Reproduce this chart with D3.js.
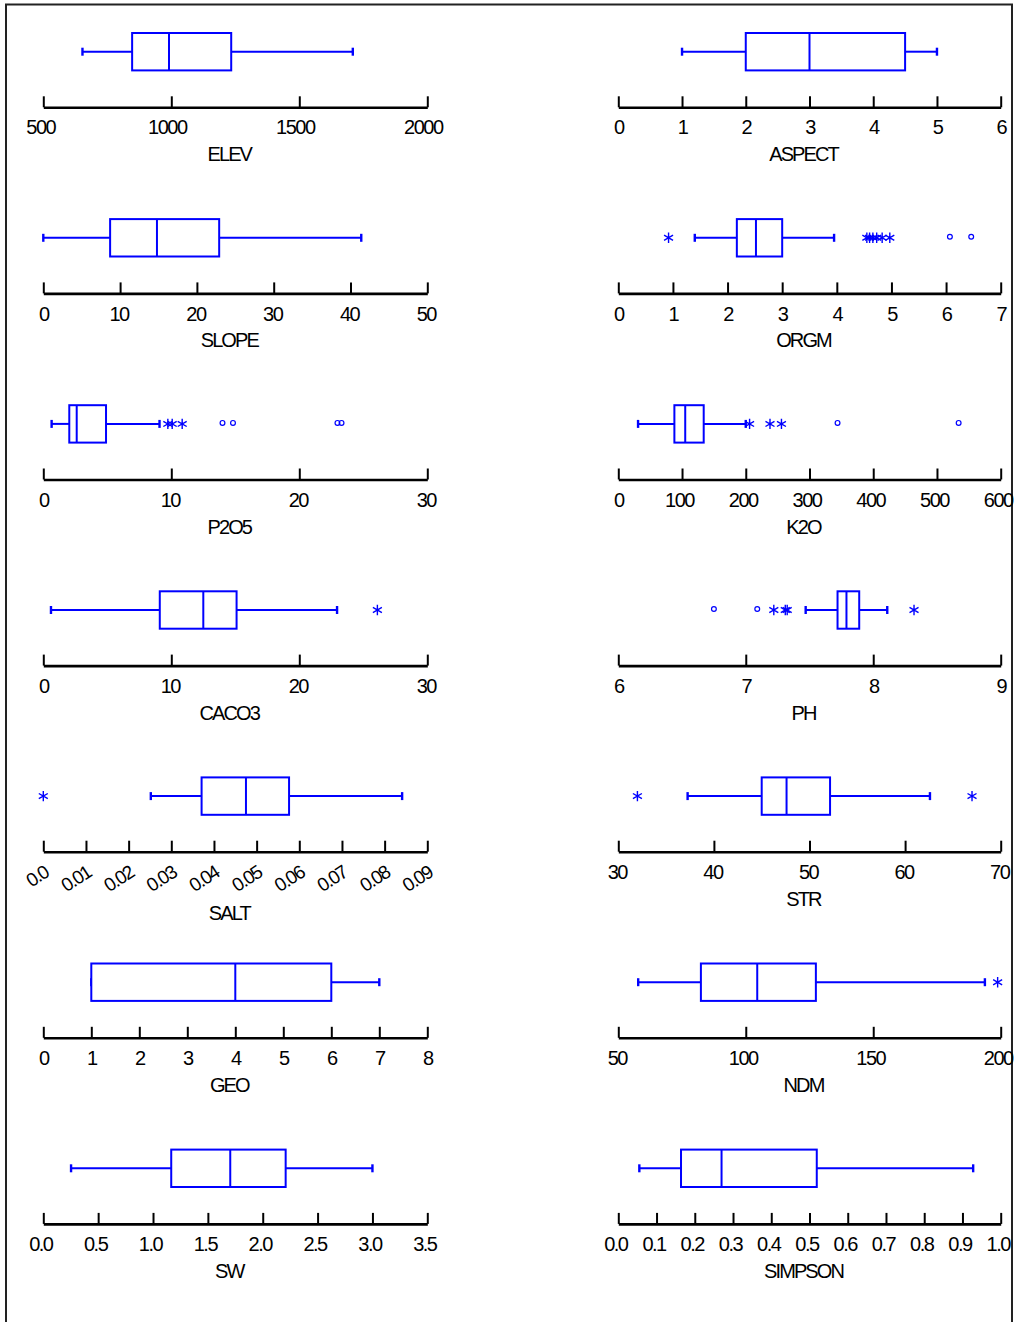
<!DOCTYPE html>
<html>
<head>
<meta charset="utf-8">
<script src="https://cdn.jsdelivr.net/npm/d3@7"></script>
<style>
  body { margin: 0; background: #fff; }
  svg { display: block; font-family: "Liberation Sans", Arial, sans-serif; }
</style>
</head>
<body>
<svg id="chart" width="1016" height="1322"></svg>
<script>
// Variables, in reading order (left column, right column, row by row)
const variables = ["ELEV", "ASPECT", "SLOPE", "ORGM", "P2O5", "K2O", "CACO3", "PH",
                   "SALT", "STR", "GEO", "NDM", "SW", "SIMPSON"];

// Five-number summaries
const whiskerLow  = [653, 1, 0, 1.40, 0.65, 31, 0.6, 7.47, 0.0252, 37.25, 1, 57.8, 0.253, 0.055];
const q1          = [847, 2, 8.7, 2.17, 2.03, 88, 9.1, 7.72, 0.0371, 45.0, 1, 82.4, 1.166, 0.164];
const median      = [991, 3, 14.8, 2.52, 2.61, 105, 12.5, 7.79, 0.0475, 47.6, 4, 104.5, 1.704, 0.27];
const q3          = [1234, 4.5, 22.9, 3.0, 4.9, 134, 15.1, 7.89, 0.0576, 52.15, 6, 127.5, 2.209, 0.519];
const whiskerHigh = [1709, 5, 41.4, 3.95, 9.08, 200, 22.95, 8.11, 0.0841, 62.6, 7, 193.8, 3.0, 0.928];

// Outside values (asterisks) and far outside values (circles)
const outsideValues = [
  [], [], [], [0.92, 4.55, 4.60, 4.66, 4.73, 4.83, 4.97],
  [9.73, 10.07, 10.85], [206, 238, 256],
  [26.1], [7.22, 7.31, 7.325, 8.32],
  [0.0], [32.0, 67.0],
  [], [198.8],
  [], []
];
const farOutsideValues = [
  [], [], [], [6.07, 6.46],
  [14.0, 14.82, 22.98, 23.3], [344, 534],
  [], [6.75, 7.09],
  [], [],
  [], [],
  [], []
];

// Axis ticks and their labels
const tickValues = [
  [500, 1000, 1500, 2000],
  [0, 1, 2, 3, 4, 5, 6],
  [0, 10, 20, 30, 40, 50],
  [0, 1, 2, 3, 4, 5, 6, 7],
  [0, 10, 20, 30],
  [0, 100, 200, 300, 400, 500, 600],
  [0, 10, 20, 30],
  [6, 7, 8, 9],
  [0, 0.01, 0.02, 0.03, 0.04, 0.05, 0.06, 0.07, 0.08, 0.09],
  [30, 40, 50, 60, 70],
  [0, 1, 2, 3, 4, 5, 6, 7, 8],
  [50, 100, 150, 200],
  [0, 0.5, 1, 1.5, 2, 2.5, 3, 3.5],
  [0, 0.1, 0.2, 0.3, 0.4, 0.5, 0.6, 0.7, 0.8, 0.9, 1]
];
const tickLabels = [
  ["500", "1000", "1500", "2000"],
  ["0", "1", "2", "3", "4", "5", "6"],
  ["0", "10", "20", "30", "40", "50"],
  ["0", "1", "2", "3", "4", "5", "6", "7"],
  ["0", "10", "20", "30"],
  ["0", "100", "200", "300", "400", "500", "600"],
  ["0", "10", "20", "30"],
  ["6", "7", "8", "9"],
  ["0.0", "0.01", "0.02", "0.03", "0.04", "0.05", "0.06", "0.07", "0.08", "0.09"],
  ["30", "40", "50", "60", "70"],
  ["0", "1", "2", "3", "4", "5", "6", "7", "8"],
  ["50", "100", "150", "200"],
  ["0.0", "0.5", "1.0", "1.5", "2.0", "2.5", "3.0", "3.5"],
  ["0.0", "0.1", "0.2", "0.3", "0.4", "0.5", "0.6", "0.7", "0.8", "0.9", "1.0"]
];
// Panels whose tick labels are set at an angle
const slantedLabels = ["SALT"];

// ---- layout ----
const BLUE = "#0000ff";
const columnRanges = [[43.3, 427.3], [618.3, 1000.7]];
const firstAxisY = 107.3, rowStep = 186.1;
const boxOffset = 55.6, boxHalf = 18.7, capHalf = 4;

const svg = d3.select("#chart");

// frame around the figure
svg.append("rect")
  .attr("x", 6).attr("y", 4.5)
  .attr("width", 1006).attr("height", 1340)
  .attr("fill", "none").attr("stroke", "#222").attr("stroke-width", 2);

// asterisk marker path
function starPath(r) {
  const p = [];
  for (let k = 0; k < 3; k++) {
    const a = Math.PI / 2 + k * Math.PI / 3;
    const dx = r * Math.cos(a), dy = r * Math.sin(a);
    p.push(`M${-dx},${-dy}L${dx},${dy}`);
  }
  return p.join("");
}

variables.forEach((name, i) => {
  const col = i % 2, row = Math.floor(i / 2);
  const axisY = firstAxisY + row * rowStep;
  const ticks = tickValues[i], labels = tickLabels[i];
  const x = d3.scaleLinear()
    .domain([ticks[0], ticks[ticks.length - 1]])
    .range(columnRanges[col]);

  const panel = svg.append("g").attr("class", "panel");

  // axis: ticks point up, labels below
  const axisG = panel.append("g")
    .attr("transform", `translate(0,${axisY})`)
    .call(d3.axisBottom(x)
      .tickValues(ticks)
      .tickFormat((d, j) => labels[j])
      .tickSizeInner(-11)
      .tickSizeOuter(0)
      .tickPadding(13));
  axisG.attr("font-family", null).attr("font-size", null);
  axisG.select(".domain").attr("stroke", "#000").attr("stroke-width", 2.6);
  axisG.selectAll(".tick line").attr("stroke", "#000").attr("stroke-width", 2);
  const txt = axisG.selectAll(".tick text")
    .attr("fill", "#000")
    .style("letter-spacing", "-1.5px");

  if (slantedLabels.includes(name)) {
    txt.attr("y", 0).attr("dy", 0)
      .attr("font-size", 19)
      .attr("text-anchor", "end")
      .attr("transform", "translate(6,24) rotate(-33)");
  } else {
    txt.attr("font-size", 20)
      .attr("dx", (d, j) => -(labels[j].length - 1) * 1.5);
  }

  // axis title
  const titleDy = slantedLabels.includes(name) ? 68 : 54;
  panel.append("text")
    .attr("x", (columnRanges[col][0] + columnRanges[col][1]) / 2 - 6)
    .attr("y", axisY + titleDy)
    .attr("text-anchor", "middle")
    .attr("font-size", 20)
    .style("letter-spacing", "-1.9px")
    .attr("fill", "#000")
    .text(name);

  // box plot
  const cy = axisY - boxOffset;
  const box = panel.append("g")
    .attr("fill", "none").attr("stroke", BLUE).attr("stroke-width", 2);

  box.append("line")
    .attr("x1", x(whiskerLow[i])).attr("x2", x(q1[i]))
    .attr("y1", cy).attr("y2", cy);
  box.append("line")
    .attr("x1", x(q3[i])).attr("x2", x(whiskerHigh[i]))
    .attr("y1", cy).attr("y2", cy);
  [whiskerLow[i], whiskerHigh[i]].forEach(v => {
    box.append("line")
      .attr("x1", x(v)).attr("x2", x(v))
      .attr("y1", cy - capHalf).attr("y2", cy + capHalf)
      .attr("stroke-width", 2.4);
  });
  box.append("rect")
    .attr("x", x(q1[i])).attr("y", cy - boxHalf)
    .attr("width", x(q3[i]) - x(q1[i])).attr("height", boxHalf * 2)
    .attr("fill", "#fff");
  box.append("line")
    .attr("x1", x(median[i])).attr("x2", x(median[i]))
    .attr("y1", cy - boxHalf).attr("y2", cy + boxHalf);

  // outside values
  panel.selectAll(null)
    .data(outsideValues[i])
    .join("path")
    .attr("transform", d => `translate(${x(d)},${cy})`)
    .attr("d", starPath(5.2))
    .attr("fill", "none").attr("stroke", BLUE).attr("stroke-width", 1.4);

  // far outside values
  panel.selectAll(null)
    .data(farOutsideValues[i])
    .join("circle")
    .attr("cx", d => x(d)).attr("cy", cy - 1)
    .attr("r", 2.4)
    .attr("fill", "none").attr("stroke", BLUE).attr("stroke-width", 1.2);
});
</script>
</body>
</html>
